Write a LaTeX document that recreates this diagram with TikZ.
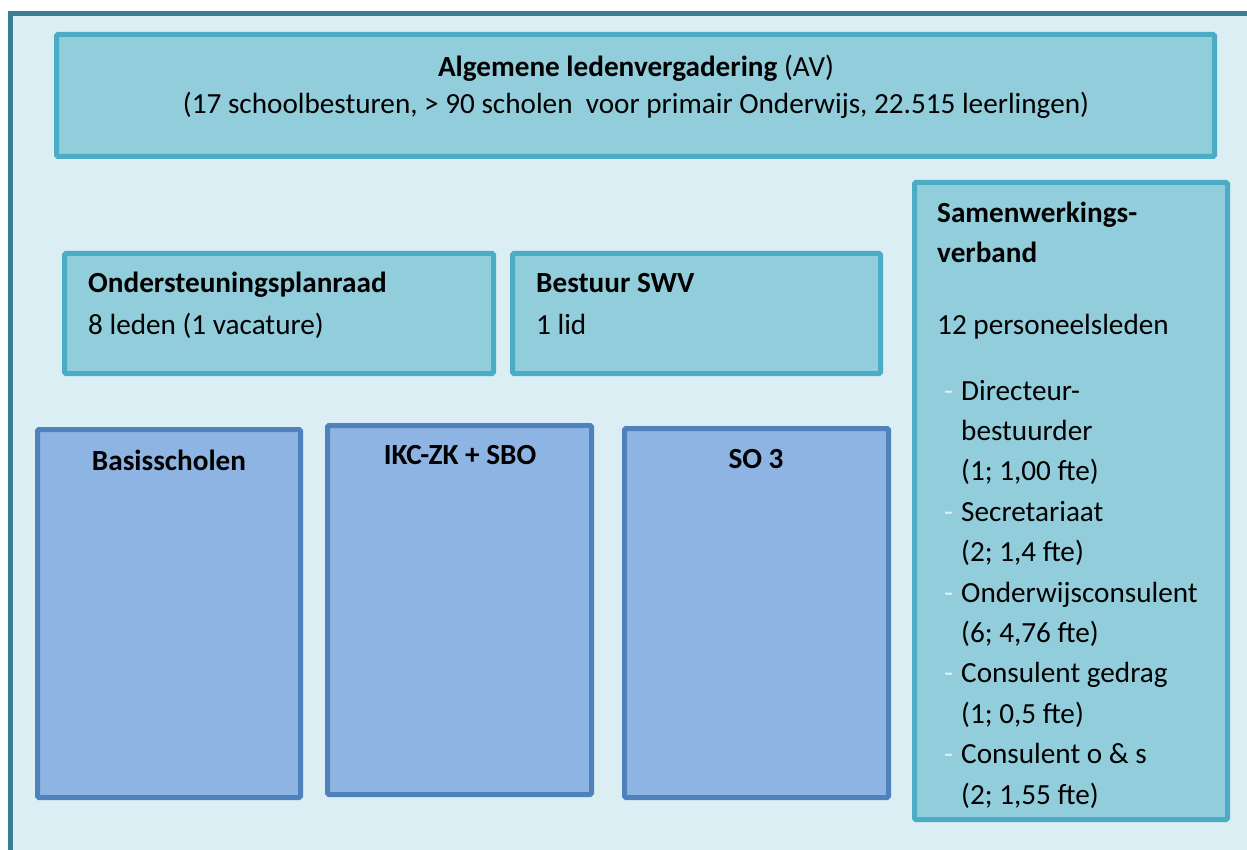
\documentclass[tikz,border=0pt]{standalone}
\usepackage{fontspec}
\setmainfont{Carlito}
\definecolor{framefill}{HTML}{DBEEF4}
\definecolor{frameline}{RGB}{56,128,145}
\definecolor{tealfill}{HTML}{92CDDC}
\definecolor{tealline}{HTML}{4BACC6}
\definecolor{bluefill}{HTML}{8EB4E3}
\definecolor{blueline}{HTML}{4F81BD}
\definecolor{dashcol}{HTML}{DDF0F6}
\tikzset{
  tealbox/.style={draw=tealline, fill=tealfill, line width=5pt, rounded corners=1.5pt, anchor=north west, inner sep=0pt, outer sep=0pt},
  bluebox/.style={draw=blueline, fill=bluefill, line width=5pt, rounded corners=1.5pt, anchor=north west, inner sep=0pt, outer sep=0pt},
  txt/.style={inner sep=0pt, anchor=base west, font=\fontsize{29.2}{40.4}\selectfont},
  ctxt/.style={inner sep=0pt, anchor=base, font=\fontsize{29.2}{40.4}\selectfont},
  bul/.style={inner sep=0pt, anchor=base west, text=dashcol, font=\fontsize{29.2}{40.4}\selectfont},
}
\begin{document}
\begin{tikzpicture}[x=1pt,y=-1pt]
\useasboundingbox[fill=white] (0,0) rectangle (1247,850);
% outer frame
\node[draw=frameline, fill=framefill, line width=5pt, anchor=north west, inner sep=0pt, outer sep=0pt, minimum width=1300pt, minimum height=900pt] (frame) at (10.5,14) {};
% top box
\node[tealbox, minimum width=1158pt, minimum height=122pt] (av) at (56.5,34.5) {};
\node[ctxt] (avt) at (636,77) {\textbf{Algemene ledenvergadering} (AV)};
\node[ctxt] (avs) at (636,114) {(17 schoolbesturen, > 90 scholen\ \ voor primair Onderwijs, 22.515 leerlingen)};
% middle boxes
\node[tealbox, minimum width=429pt, minimum height=120pt] (opr) at (64.5,253.5) {};
\node[txt] (oprt) at (88,293) {\textbf{Ondersteuningsplanraad}};
\node[txt] (oprs) at (88,334) {8 leden (1 vacature)};
\node[tealbox, minimum width=368pt, minimum height=120pt] (bsw) at (512.5,253.5) {};
\node[txt] (bswt) at (536,293) {\textbf{Bestuur SWV}};
\node[txt] (bsws) at (536,334) {1 lid};
% right box
\node[tealbox, minimum width=313pt, minimum height=637pt] (swv) at (914.5,182.5) {};
\node[txt] (swv1) at (937,223) {\textbf{Samenwerkings-}};
\node[txt] (swv2) at (937,263) {\textbf{verband}};
\node[txt] (swv3) at (937,334) {12 personeelsleden};
\node[bul] (b1) at (944,400) {-};
\node[txt] (l1) at (961,400) {Directeur-};
\node[txt] (l2) at (961,440.4) {bestuurder};
\node[txt] (l3) at (961,480.8) {(1; 1,00 fte)};
\node[bul] (b2) at (944,521.2) {-};
\node[txt] (l4) at (961,521.2) {Secretariaat};
\node[txt] (l5) at (961,561.6) {(2; 1,4 fte)};
\node[bul] (b3) at (944,602) {-};
\node[txt] (l6) at (961,602) {Onderwijsconsulent};
\node[txt] (l7) at (961,642.4) {(6; 4,76 fte)};
\node[bul] (b4) at (944,682.8) {-};
\node[txt] (l8) at (961,682.8) {Consulent gedrag};
\node[txt] (l9) at (961,723.2) {(1; 0,5 fte)};
\node[bul] (b5) at (944,763.6) {-};
\node[txt] (l10) at (961,763.6) {Consulent o \& s};
\node[txt] (l11) at (961,804) {(2; 1,55 fte)};
% bottom boxes
\node[bluebox, minimum width=263pt, minimum height=368pt] (bas) at (37.5,429.5) {};
\node[ctxt] (bast) at (169,470) {\textbf{Basisscholen}};
\node[bluebox, minimum width=264pt, minimum height=369pt] (ikc) at (327.5,425.5) {};
\node[ctxt] (ikct) at (460,464) {\textbf{IKC-ZK + SBO}};
\node[bluebox, minimum width=264pt, minimum height=369pt] (so3) at (624.5,428.5) {};
\node[ctxt] (so3t) at (756,468) {\textbf{SO 3}};
\end{tikzpicture}
\end{document}
